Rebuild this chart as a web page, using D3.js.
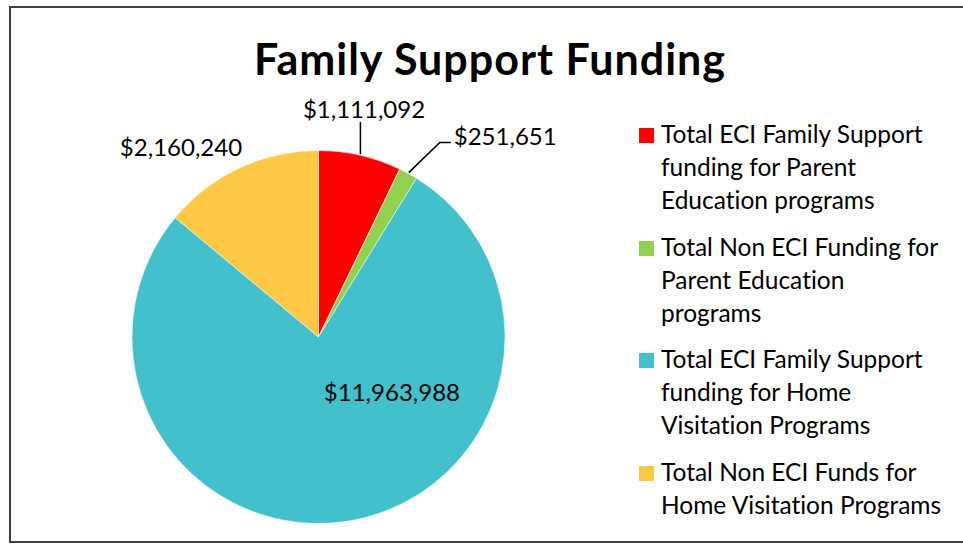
<!DOCTYPE html>
<html>
<head>
<meta charset="utf-8">
<script src="https://cdn.jsdelivr.net/npm/d3@7"></script>
<style>
  body { margin: 0; background: #fff; }
  svg { display: block; font-family: Lato, "Liberation Sans", sans-serif; font-variant-ligatures: none; }
</style>
</head>
<body>
<svg></svg>
<script>
const categories = [
  'Total ECI Family Support funding for Parent Education programs',
  'Total Non ECI Funding for Parent Education programs',
  'Total ECI Family Support funding for Home Visitation Programs',
  'Total Non ECI Funds for Home Visitation Programs'
]
const legendLines = [
  ['Total ECI Family Support', 'funding for Parent', 'Education programs'],
  ['Total Non ECI Funding for', 'Parent Education', 'programs'],
  ['Total ECI Family Support', 'funding for Home', 'Visitation Programs'],
  ['Total Non ECI Funds for', 'Home Visitation Programs']
]
const values = [1111092, 251651, 11963988, 2160240]
const colors = ['#ff0000', '#92d050', '#42c0cb', '#ffc845']

const width = 963
const height = 544
const cx = 318.5
const cy = 337
const radius = 186.5

const svg = d3.select('svg')
  .attr('width', width)
  .attr('height', height)

// chart border
svg.append('rect')
  .attr('x', 10)
  .attr('y', 7)
  .attr('width', 980)
  .attr('height', 535)
  .attr('fill', '#fff')
  .attr('stroke', '#404040')
  .attr('stroke-width', 2)

svg.append('text')
  .attr('x', 490)
  .attr('y', 75)
  .attr('text-anchor', 'middle')
  .attr('font-size', 43)
  .attr('font-weight', 'bold')
  .attr('letter-spacing', 1)
  .text('Family Support Funding')

const pie = d3.pie().sort(null).value((d) => d)
const arcs = pie(values)
const arc = d3.arc().innerRadius(0).outerRadius(radius)

const g = svg.append('g')
  .attr('transform', `translate(${cx}, ${cy})`)

g.selectAll('.slice')
  .data(arcs)
  .enter().append('path')
  .attr('class', 'slice')
  .attr('d', arc)
  .attr('fill', (d, i) => colors[i])
  .attr('stroke', '#fff')
  .attr('stroke-width', 0.5)

const fmt = (v) => '$' + d3.format(',')(v)
const mid = (d) => (d.startAngle + d.endAngle) / 2
const edge = (a, r) => [Math.sin(a) * r, -Math.cos(a) * r]

// label placement: radius from centre and angle nudge (Excel best fit)
const labelRadius = [232, 274, 92, 234]
const labelNudge = [-0.028, 0.248, -0.763, -0.19]
const leader = [true, true, false, false]

arcs.forEach((d, i) => {
  const a = mid(d) + labelNudge[i]
  const [lx, ly] = edge(a, labelRadius[i])
  const t = g.append('text')
    .attr('x', lx)
    .attr('y', ly)
    .attr('dy', '0.35em')
    .attr('text-anchor', 'middle')
    .attr('font-size', 24)
    .attr('fill', '#000')
    .text(fmt(values[i]))
  if (leader[i]) {
    const box = t.node().getBBox()
    const start = edge(mid(d), radius + 1)
    let pts
    if (i === 0) {
      pts = [start, [start[0], box.y + box.height - 1]]
    } else {
      const bendY = ly + 6
      pts = [start, [box.x - 14, bendY], [box.x - 3, bendY]]
    }
    g.append('path')
      .attr('d', d3.line()(pts))
      .attr('fill', 'none')
      .attr('stroke', '#000')
      .attr('stroke-width', 1.5)
  }
})

// legend
const legend = svg.append('g')
  .attr('transform', 'translate(639, 0)')

const rowTop = [128, 241, 353, 466]
legendLines.forEach((lines, i) => {
  const item = legend.append('g')
    .attr('transform', `translate(0, ${rowTop[i]})`)
  item.append('rect')
    .attr('width', 15)
    .attr('height', 15)
    .attr('fill', colors[i])
  item.append('text')
    .attr('font-size', 24.5)
    .selectAll('tspan')
    .data(lines)
    .enter().append('tspan')
    .attr('x', 22)
    .attr('y', (d, j) => 15 + j * 33)
    .text((d) => d)
})
</script>
</body>
</html>
